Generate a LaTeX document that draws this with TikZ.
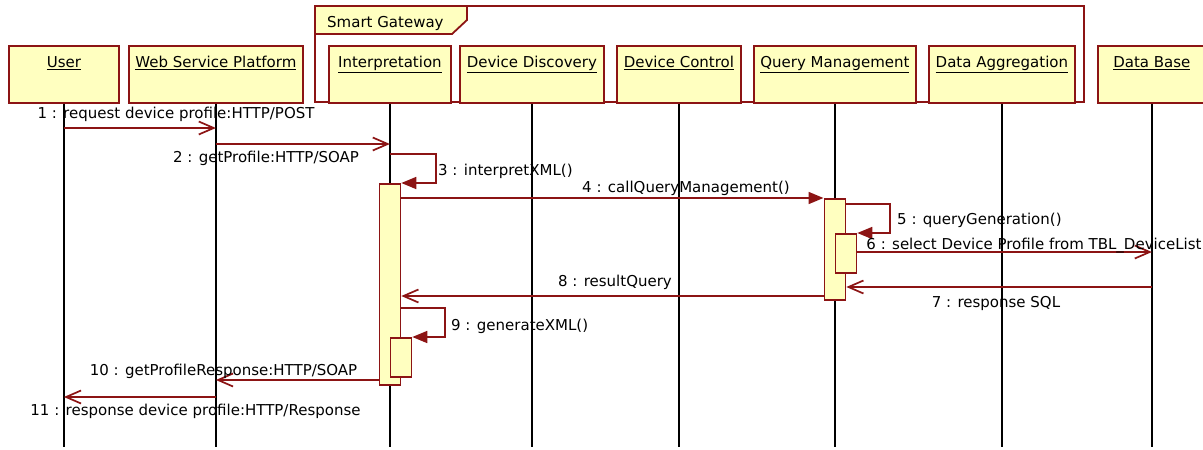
\documentclass[tikz,border=0pt]{standalone}
\usepackage{fontspec}
\setmainfont{DejaVu Sans}
\usetikzlibrary{arrows.meta}
\definecolor{umlred}{RGB}{140,20,20}
\definecolor{umlfill}{RGB}{255,255,192}
\begin{document}
\begin{tikzpicture}[x=1pt,y=-1pt,
    every node/.style={font=\fontsize{15}{18}\selectfont, inner sep=0pt},
    head/.style={draw=umlred, fill=umlfill, line width=1.8pt, anchor=north west, minimum width=#1pt, minimum height=57pt, text height=21.5pt, text depth=35.5pt},
    act/.style={draw=umlred, fill=umlfill, line width=1.8pt, anchor=north west, minimum width=21pt, minimum height=#1pt},
    life/.style={black, line width=1.5pt},
    msg/.style={umlred, line width=1.7pt, -{Straight Barb[length=15pt,width=13pt]}},
    call/.style={umlred, line width=1.7pt, -{Triangle[length=15pt,width=12pt]}},
    lbl/.style={anchor=base}]
    \useasboundingbox (0,0) rectangle (1203,450);
    \draw [umlred, line width=1.8pt] (315,6) rectangle (1084,102);
    \filldraw [umlred, fill=umlfill, line width=1.8pt] (315,6) -- (467,6) -- (467,20) -- (452,34) -- (315,34) -- cycle;
    \node [anchor=base west] (gw) at (327,27) {Smart Gateway};
    \node [head=110] (user) at (8,45) {\underline{User}};
    \node [head=174] (wsp) at (128,45) {\underline{Web Service Platform}};
    \node [head=122] (interp) at (328,45) {\underline{Interpretation}};
    \node [head=144] (disc) at (459,45) {\underline{Device Discovery}};
    \node [head=124] (ctrl) at (616,45) {\underline{Device Control}};
    \node [head=162] (qm) at (753,45) {\underline{Query Management}};
    \node [head=146] (agg) at (928,45) {\underline{Data Aggregation}};
    \node [head=108] (db) at (1097,45) {\underline{Data Base}};
    \foreach \n in {user,wsp,interp,disc,ctrl,qm,agg,db}
        \draw [life] (\n.south) -- (\n.south |- 0,447);
    \node [act=201] (actI) at (378.5,183) {};
    \node [act=39] (actIb) at (389.5,337) {};
    \node [act=101] (actQ) at (823.5,198) {};
    \node [act=39] (actQb) at (834.5,233) {};
    \draw [msg] (user |- 0,128) -- (wsp |- 0,128);
    \node [lbl] (l1) at (176,118.5) {1 : request device profile:HTTP/POST};
    \draw [msg] (wsp |- 0,144) -- (interp |- 0,144);
    \node [lbl] (l2) at (266,162.5) {2 : getProfile:HTTP/SOAP};
    \draw [call] (interp |- 0,154) -- (436,154) -- (436,183) -- (actI.north east);
    \node [anchor=base west] (l3) at (438,175) {3 : interpretXML()};
    \draw [call] (actI.east |- 0,198) -- (actQ.west |- 0,198);
    \node [lbl] (l4) at (686,192) {4 : callQueryManagement()};
    \draw [call] (actQ.east |- 0,204) -- (890,204) -- (890,233) -- (actQb.north east);
    \node [anchor=base west] (l5) at (897,224) {5 : queryGeneration()};
    \draw [msg] (actQb.east |- 0,252) -- (db |- 0,252);
    \node [lbl] (l6) at (1034,249) {6 : select Device Profile from TBL\_DeviceList};
    \draw [msg] (db |- 0,287) -- (actQ.east |- 0,287);
    \node [lbl] (l7) at (996,307) {7 : response SQL};
    \draw [msg] (actQ.west |- 0,296) -- (actI.east |- 0,296);
    \node [lbl] (l8) at (615,286) {8 : resultQuery};
    \draw [call] (actI.east |- 0,308) -- (445,308) -- (445,337) -- (actIb.north east);
    \node [anchor=base west] (l9) at (451,330) {9 : generateXML()};
    \draw [msg] (actI.west |- 0,380) -- (wsp |- 0,380);
    \node [lbl] (l10) at (223.5,375) {10 : getProfileResponse:HTTP/SOAP};
    \draw [msg] (wsp |- 0,397) -- (user |- 0,397);
    \node [lbl] (l11) at (195.5,415) {11 : response device profile:HTTP/Response};
\end{tikzpicture}
\end{document}
